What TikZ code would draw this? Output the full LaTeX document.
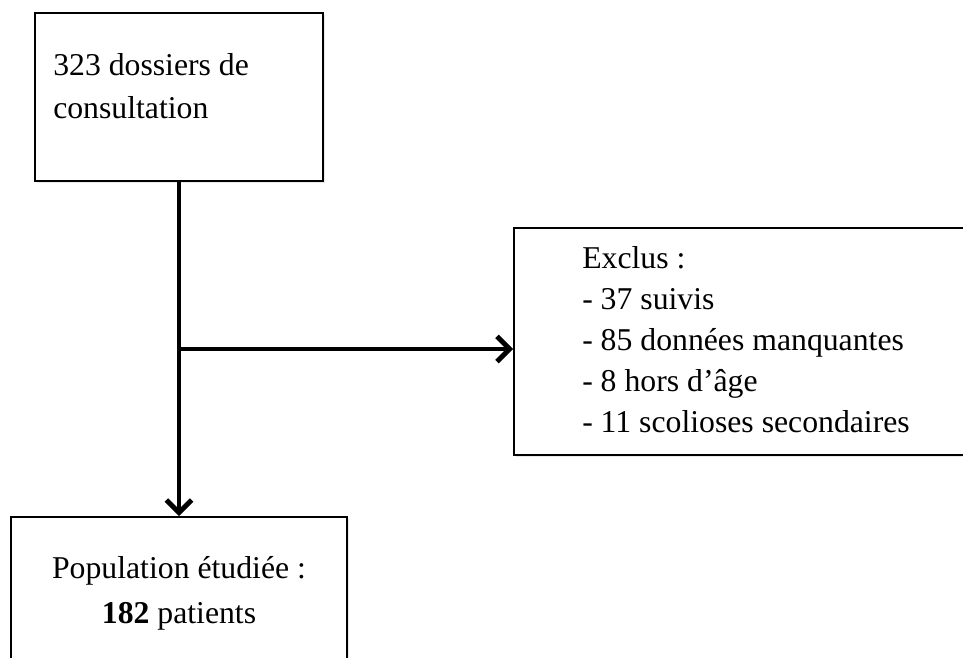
\documentclass[tikz,border=0pt]{standalone}
\usepackage{fontspec}
\setmainfont{Liberation Serif}
\usetikzlibrary{arrows.meta,shadows}

\tikzset{
  flowbox/.style={draw, line width=1.5pt, fill=white, inner sep=0pt,
    drop shadow={opacity=0.18, shadow xshift=1.2pt, shadow yshift=-1.5pt}},
  flowarrow/.style={line width=3.6pt, -{Straight Barb[length=9.5pt, width=19pt, line width=3.6pt]}},
  flowtxt/.style={inner sep=0pt, font=\fontsize{23.8pt}{30.75pt}\selectfont}
}

\begin{document}
\begin{tikzpicture}[x=0.75pt,y=0.75pt,yscale=-1]
\path[use as bounding box, clip] (0,0) rectangle (963,657);

%Shape: Rectangle [top]
\node[flowbox, minimum width=216pt, minimum height=126pt] (dossiers) at (179,97) {};
%Shape: Rectangle [right]
\node[flowbox, minimum width=364.5pt, minimum height=170.25pt] (exclus) at (757,341.5) {};
%Shape: Rectangle [bottom]
\node[flowbox, minimum width=252pt, minimum height=127.5pt] (population) at (179,602) {};

%Straight Lines
\coordinate (split) at (179,349);
\draw[flowarrow] (dossiers.south) -- (population.north);
\draw[flowarrow] (split) -- (split -| exclus.west);

% Text Node (anchored on the last line)
\node[flowtxt, anchor=base west, align=left, font=\fontsize{23.8pt}{32.25pt}\selectfont] (dossierstxt) at (53,118) {323 dossiers de\\consultation};
% Text Node
\node[flowtxt, anchor=base west, align=left] (exclustxt) at (582,432) {Exclus :\\- 37 suivis\\- 85 données manquantes\\- 8 hors d’âge\\- 11 scolioses secondaires};
% Text Node
\node[flowtxt, anchor=base, align=center, font=\fontsize{23.8pt}{33.75pt}\selectfont] (populationtxt) at (179,623) {Population étudiée :\\\textbf{182} patients};

\end{tikzpicture}
\end{document}
